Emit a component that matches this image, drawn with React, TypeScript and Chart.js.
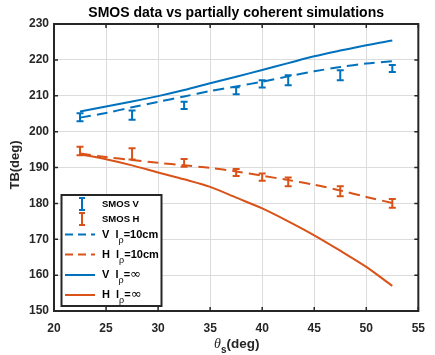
import React, { useEffect, useRef } from 'react';
import { Chart, registerables } from 'chart.js';

Chart.register(...registerables);

// ---------- data ----------
const smosAngles = [22.5, 27.5, 32.5, 37.5, 40, 42.5, 47.5, 52.5];
const smosV = [204.0, 204.6, 207.3, 211.4, 213.3, 214.3, 215.7, 217.6];
const smosVErr = [1.1, 1.3, 1.0, 1.0, 1.0, 1.4, 1.4, 1.0];
const smosH = [194.6, 193.8, 191.3, 188.6, 187.3, 186.0, 183.4, 180.0];
const smosHErr = [1.2, 1.6, 1.1, 1.0, 1.0, 1.2, 1.4, 1.2];

const simAngles = [22.5, 25, 27.5, 30, 32.5, 35, 37.5, 40, 42.5, 45, 47.5, 50, 52.5];
const simV10 = [203.9, 205.2, 206.8, 208.3, 209.8, 211.3, 212.6, 213.9, 215.4, 216.8, 218.0, 219.0, 219.6];
const simH10 = [193.9, 192.9, 192.1, 191.3, 190.6, 189.9, 188.9, 187.7, 186.5, 185.2, 183.6, 181.8, 180.1];
const simVInf = [205.6, 207.0, 208.4, 209.9, 211.6, 213.5, 215.3, 217.2, 219.1, 221.0, 222.6, 224.1, 225.4];
const simHInf = [193.7, 192.3, 190.6, 188.6, 186.7, 184.6, 181.6, 178.6, 175.0, 171.1, 166.8, 162.3, 157.0];

const xTicks = [20, 25, 30, 35, 40, 45, 50, 55];
const yTicks = [150, 160, 170, 180, 190, 200, 210, 220, 230];

const titleText = 'SMOS data vs partially coherent simulations';
const yLabelText = 'TB(deg)';

const BLUE = '#0072BD';
const ORANGE = '#D95319';
const AXIS = '#262626';
const FONT = '"Liberation Sans", Arial, Helvetica, sans-serif';
const DASH = [11, 6];

const pts = (xs: number[], ys: number[]) => xs.map((x, i) => ({ x, y: ys[i] }));

function drawRich(ctx: CanvasRenderingContext2D, x: number, y: number, parts: { t: string; font: string; dy?: number }[]) {
  let cx = x;
  ctx.textBaseline = 'middle';
  ctx.textAlign = 'left';
  for (const p of parts) {
    ctx.font = p.font;
    ctx.fillText(p.t, cx, y + (p.dy || 0));
    cx += ctx.measureText(p.t).width;
  }
}

const errorBarPlugin = {
  id: 'errorBars',
  afterDatasetsDraw(chart: any) {
    const ctx = chart.ctx;
    const xs = chart.scales.x;
    const ys = chart.scales.y;
    chart.data.datasets.forEach((ds: any) => {
      if (!ds.errors) return;
      ctx.save();
      ctx.strokeStyle = ds.borderColor;
      ctx.lineWidth = 2;
      ds.data.forEach((p: any, i: number) => {
        const px = xs.getPixelForValue(p.x);
        const top = ys.getPixelForValue(p.y + ds.errors[i]);
        const bot = ys.getPixelForValue(p.y - ds.errors[i]);
        ctx.beginPath();
        ctx.moveTo(px, top);
        ctx.lineTo(px, bot);
        ctx.moveTo(px - 3.5, top);
        ctx.lineTo(px + 3.5, top);
        ctx.moveTo(px - 3.5, bot);
        ctx.lineTo(px + 3.5, bot);
        ctx.stroke();
      });
      ctx.restore();
    });
  },
};

const decorPlugin = {
  id: 'decor',
  afterDraw(chart: any) {
    const ctx: CanvasRenderingContext2D = chart.ctx;
    const a = chart.chartArea;
    const xs = chart.scales.x;
    const ys = chart.scales.y;
    ctx.save();
    // inward ticks
    ctx.strokeStyle = AXIS;
    ctx.lineWidth = 1.5;
    ctx.beginPath();
    xTicks.forEach((t) => {
      const px = xs.getPixelForValue(t);
      ctx.moveTo(px, a.bottom);
      ctx.lineTo(px, a.bottom - 4);
      ctx.moveTo(px, a.top);
      ctx.lineTo(px, a.top + 4);
    });
    yTicks.forEach((t) => {
      const py = ys.getPixelForValue(t);
      ctx.moveTo(a.left, py);
      ctx.lineTo(a.left + 4, py);
      ctx.moveTo(a.right, py);
      ctx.lineTo(a.right - 4, py);
    });
    ctx.stroke();
    // box
    ctx.lineWidth = 2;
    ctx.strokeRect(a.left, a.top, a.right - a.left, a.bottom - a.top);

    // title
    ctx.fillStyle = '#000';
    ctx.font = `bold 14px ${FONT}`;
    ctx.textAlign = 'center';
    ctx.textBaseline = 'middle';
    ctx.fillText(titleText, (a.left + a.right) / 2, 13);

    // y label
    ctx.save();
    ctx.translate(15, 165);
    ctx.rotate(-Math.PI / 2);
    ctx.fillStyle = AXIS;
    ctx.font = `bold 13px ${FONT}`;
    ctx.fillText(yLabelText, 0, 0);
    ctx.restore();

    // x label
    ctx.fillStyle = AXIS;
    drawRich(ctx, 214, 344, [
      { t: 'θ', font: `italic 14px "Liberation Serif", serif` },
      { t: 's', font: `bold 10px ${FONT}`, dy: 6 },
      { t: '(deg)', font: `bold 13.5px ${FONT}` },
    ]);

    // legend
    const lx = 61.5, ly = 195, lw = 100, lh = 111;
    ctx.fillStyle = '#fff';
    ctx.fillRect(lx, ly, lw, lh);
    ctx.strokeStyle = AXIS;
    ctx.lineWidth = 2;
    ctx.strokeRect(lx, ly, lw, lh);

    const rows = [204, 219, 234.5, 254.5, 275, 295];
    const iconX0 = 65, iconX1 = 95, textX = 102;
    const bf = `bold 9.5px ${FONT}`;
    const bl = `bold 11px ${FONT}`;
    const sf = `9px ${FONT}`;
    const inf = `13px "DejaVu Sans", sans-serif`;
    // error bar icons
    [BLUE, ORANGE].forEach((c, i) => {
      const cy = rows[i];
      ctx.strokeStyle = c;
      ctx.lineWidth = 2;
      ctx.beginPath();
      ctx.moveTo(82, cy - 6);
      ctx.lineTo(82, cy + 6);
      ctx.moveTo(79, cy - 6);
      ctx.lineTo(85, cy - 6);
      ctx.moveTo(79, cy + 6);
      ctx.lineTo(85, cy + 6);
      ctx.stroke();
    });
    // line icons
    [BLUE, ORANGE, BLUE, ORANGE].forEach((c, i) => {
      const cy = rows[i + 2];
      ctx.strokeStyle = c;
      ctx.lineWidth = 2;
      ctx.setLineDash(i < 2 ? [8, 5] : []);
      ctx.beginPath();
      ctx.moveTo(iconX0, cy);
      ctx.lineTo(iconX1, cy);
      ctx.stroke();
    });
    ctx.setLineDash([]);
    ctx.fillStyle = '#000';
    drawRich(ctx, textX, rows[0], [{ t: 'SMOS V', font: bf }]);
    drawRich(ctx, textX, rows[1], [{ t: 'SMOS H', font: bf }]);
    drawRich(ctx, textX, rows[2], [{ t: 'V  l', font: bl }, { t: 'ρ', font: sf, dy: 6 }, { t: '=10cm', font: bl }]);
    drawRich(ctx, textX, rows[3], [{ t: 'H  l', font: bl }, { t: 'ρ', font: sf, dy: 6 }, { t: '=10cm', font: bl }]);
    drawRich(ctx, textX, rows[4], [{ t: 'V  l', font: bl }, { t: 'ρ', font: sf, dy: 6 }, { t: '=', font: bl }, { t: '∞', font: inf }]);
    drawRich(ctx, textX, rows[5], [{ t: 'H  l', font: bl }, { t: 'ρ', font: sf, dy: 6 }, { t: '=', font: bl }, { t: '∞', font: inf }]);
    ctx.restore();
  },
};

export default function App() {
  const ref = useRef<HTMLCanvasElement | null>(null);
  useEffect(() => {
    document.body.style.margin = '0';
    const canvas = ref.current;
    if (!canvas) return;
    const chart = new Chart(canvas, {
      type: 'scatter',
      data: {
        datasets: [
          { label: 'SMOS V', data: pts(smosAngles, smosV), borderColor: BLUE, backgroundColor: BLUE, pointRadius: 0, showLine: false, errors: smosVErr } as any,
          { label: 'SMOS H', data: pts(smosAngles, smosH), borderColor: ORANGE, backgroundColor: ORANGE, pointRadius: 0, showLine: false, errors: smosHErr } as any,
          { label: 'V l=10cm', data: pts(simAngles, simV10), borderColor: BLUE, borderWidth: 2, borderDash: DASH, pointRadius: 0, showLine: true, tension: 0.3 },
          { label: 'H l=10cm', data: pts(simAngles, simH10), borderColor: ORANGE, borderWidth: 2, borderDash: DASH, pointRadius: 0, showLine: true, tension: 0.3 },
          { label: 'V l=∞', data: pts(simAngles, simVInf), borderColor: BLUE, borderWidth: 2, pointRadius: 0, showLine: true, tension: 0.3 },
          { label: 'H l=∞', data: pts(simAngles, simHInf), borderColor: ORANGE, borderWidth: 2, pointRadius: 0, showLine: true, tension: 0.3 },
        ],
      },
      options: {
        responsive: false,
        animation: false,
        devicePixelRatio: 1,
        layout: { padding: { top: 24, right: 7, left: 0, bottom: 0 } },
        plugins: { legend: { display: false }, title: { display: false }, tooltip: { enabled: false } },
        scales: {
          x: {
            type: 'linear',
            min: 20,
            max: 55,
            afterBuildTicks: (s: any) => { s.ticks = xTicks.map((v) => ({ value: v })); },
            afterFit: (s: any) => { s.height = 44; },
            grid: { color: '#dcdcdc', lineWidth: 1, drawTicks: false },
            border: { display: false },
            ticks: { color: AXIS, font: { family: FONT, size: 12, weight: 'bold' }, padding: 10, maxRotation: 0 },
          },
          y: {
            type: 'linear',
            min: 150,
            max: 230,
            afterBuildTicks: (s: any) => { s.ticks = yTicks.map((v) => ({ value: v })); },
            afterFit: (s: any) => { s.width = 54; },
            grid: { color: '#dcdcdc', lineWidth: 1, drawTicks: false },
            border: { display: false },
            ticks: { color: AXIS, font: { family: FONT, size: 12, weight: 'bold' }, padding: 5 },
          },
        },
      },
      plugins: [errorBarPlugin, decorPlugin],
    } as any);
    return () => chart.destroy();
  }, []);
  return (
    <div style={{ width: 435, height: 355 }}>
      <canvas ref={ref} width={435} height={355} />
    </div>
  );
}
